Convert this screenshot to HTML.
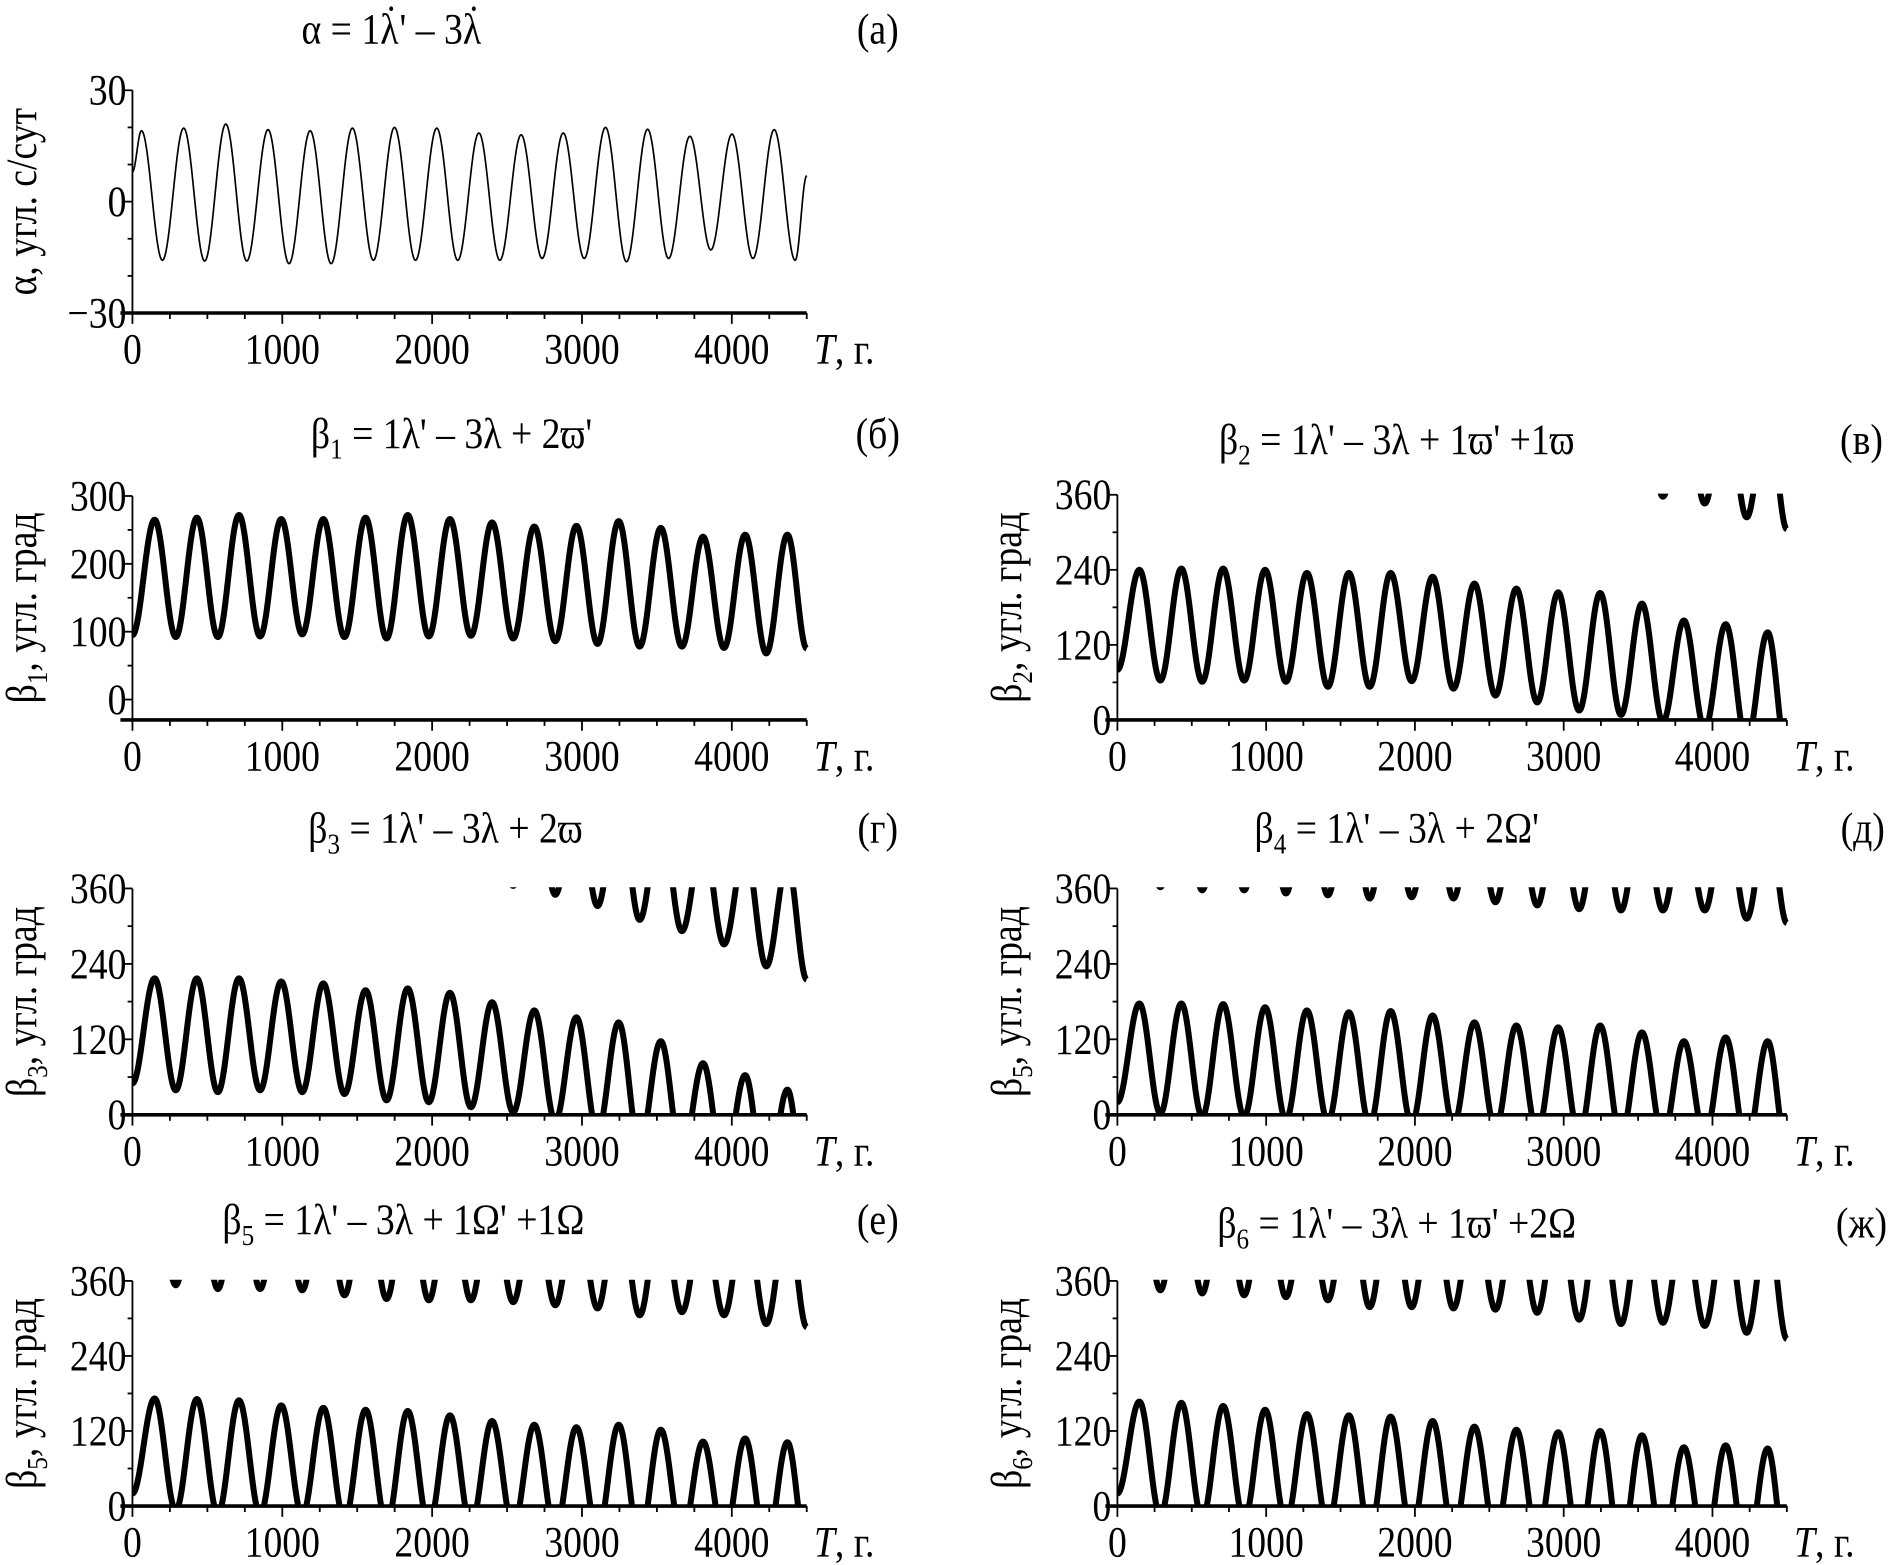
<!DOCTYPE html>
<html><head><meta charset="utf-8">
<style>
html,body{margin:0;padding:0;background:#fff;}
svg{display:block;}
text{font-family:"Liberation Serif",serif;fill:#000;}
</style></head>
<body>
<svg id="fig" xmlns="http://www.w3.org/2000/svg" width="1888" height="1565" viewBox="0 0 1568 1300" preserveAspectRatio="none">
  <rect x="0" y="0" width="1568" height="1300" fill="#fff"/>
  <text transform="translate(325 36) scale(0.87 1)" x="0" y="0" font-size="36" text-anchor="middle">α = 1λ<tspan dx="-13" dy="-7">˙</tspan><tspan dx="2" dy="7">' – 3λ</tspan><tspan dx="-13" dy="-7">˙</tspan></text>
  <text transform="translate(729 36) scale(0.87 1)" x="0" y="0" font-size="36" text-anchor="middle">(a)</text>
  <text transform="translate(375 372) scale(0.87 1)" x="0" y="0" font-size="36" text-anchor="middle">β<tspan font-size="24" dy="9">1</tspan><tspan dy="-9"> = 1λ' – 3λ + 2ϖ'</tspan></text>
  <text transform="translate(729 372) scale(0.87 1)" x="0" y="0" font-size="36" text-anchor="middle">(б)</text>
  <text transform="translate(1160 377) scale(0.87 1)" x="0" y="0" font-size="36" text-anchor="middle">β<tspan font-size="24" dy="9">2</tspan><tspan dy="-9"> = 1λ' – 3λ + 1ϖ' +1ϖ</tspan></text>
  <text transform="translate(1546 377) scale(0.87 1)" x="0" y="0" font-size="36" text-anchor="middle">(в)</text>
  <text transform="translate(370 700) scale(0.87 1)" x="0" y="0" font-size="36" text-anchor="middle">β<tspan font-size="24" dy="9">3</tspan><tspan dy="-9"> = 1λ' – 3λ + 2ϖ</tspan></text>
  <text transform="translate(729 700) scale(0.87 1)" x="0" y="0" font-size="36" text-anchor="middle">(г)</text>
  <text transform="translate(1160 700) scale(0.87 1)" x="0" y="0" font-size="36" text-anchor="middle">β<tspan font-size="24" dy="9">4</tspan><tspan dy="-9"> = 1λ' – 3λ + 2Ω'</tspan></text>
  <text transform="translate(1547 700) scale(0.87 1)" x="0" y="0" font-size="36" text-anchor="middle">(д)</text>
  <text transform="translate(335 1025) scale(0.87 1)" x="0" y="0" font-size="36" text-anchor="middle">β<tspan font-size="24" dy="9">5</tspan><tspan dy="-9"> = 1λ' – 3λ + 1Ω' +1Ω</tspan></text>
  <text transform="translate(729 1025) scale(0.87 1)" x="0" y="0" font-size="36" text-anchor="middle">(е)</text>
  <text transform="translate(1160 1028) scale(0.87 1)" x="0" y="0" font-size="36" text-anchor="middle">β<tspan font-size="24" dy="9">6</tspan><tspan dy="-9"> = 1λ' – 3λ + 1ϖ' +2Ω</tspan></text>
  <text transform="translate(1546 1028) scale(0.87 1)" x="0" y="0" font-size="36" text-anchor="middle">(ж)</text>
</svg>
<script>
const alphaPeakT   = [60,342,623,905,1186,1468,1749,2031,2312,2594,2875,3157,3438,3720,4001,4283];
const alphaTroughT = [200,482,763,1045,1326,1608,1889,2171,2452,2734,3015,3297,3578,3860,4141,4423];
const alphaPeakV   = [19.1,19.8,20.9,19.4,19.1,19.8,20,19.8,18.5,18,18.5,20,19.5,17.6,18.2,19.4];
const alphaTroughV = [-15.8,-16,-16,-16.7,-16.7,-15.8,-15.8,-15.8,-15.8,-15.3,-15.3,-16.2,-15.3,-13,-15.3,-15.8];
const alphaStart = 8, alphaEnd = 7;

const betaPeakT   = [148,430,711,993,1274,1556,1837,2119,2400,2682,2963,3245,3526,3808,4089,4371];
const betaTroughT = [289,570,852,1133,1415,1696,1978,2259,2541,2822,3104,3385,3667,3948,4230];

const b1Peak   = [265,268,272,266,266,268,272,266,261,255,256,263,253,240,243,243];
const b1Trough = [92,92,93,96,92,90,93,94,90,86,82,78,78,76,68];
const b1Start = 95, b1End = 75;

const b2Peak   = [240,242,242,240,235,235,235,229,218,210,204,203,186,159,153,140];
const b2Trough = [63,61,63,61,53,53,62,50,39,28,15,8,-3,-14,-36];
const b2Start = 80, b2End = -55;

const b3Peak   = [217,217,217,212,209,198,201,194,179,166,155,147,117,82,63,40];
const b3Trough = [39,36,39,36,33,23,20,12,4,-10,-28,-50,-68,-89,-124];
const b3Start = 50, b3End = -145;

const b4Peak   = [177,177,176,171,166,163,165,158,147,142,139,142,131,117,123,117];
const b4Trough = [2,-3,-3,-8,-11,-16,-14,-16,-22,-27,-33,-35,-35,-35,-48];
const b4Start = 20, b4End = -55;

const b5Peak   = [172,171,169,161,157,154,152,145,136,130,126,130,122,103,108,102];
const b5Trough = [-7,-13,-13,-15,-23,-29,-31,-31,-34,-39,-44,-55,-50,-55,-69];
const b5Start = 20, b5End = -74;

const b6Peak   = [167,165,160,154,147,145,143,136,127,122,118,120,113,94,97,92];
const b6Trough = [-15,-20,-23,-26,-31,-42,-42,-44,-46,-51,-62,-69,-67,-72,-83];
const b6Start = 20, b6End = -93;

const xTicks = [0,1000,2000,3000,4000];
const xMax = 4500;

const NS = "http://www.w3.org/2000/svg";
const svg = document.getElementById('fig');
function mk(tag, attrs){ const e=document.createElementNS(NS,tag); for(const k in attrs) e.setAttribute(k,attrs[k]); return e; }
const SX = 0.87;
function txt(x,y,anchor,rot){
  return mk('text',{x:0,y:0,'font-size':36,'text-anchor':anchor,
    transform:'translate('+x+' '+y+')'+(rot?' rotate(-90)':'')+' scale('+SX+' 1)'});
}

function buildSeries(pT,pV,tT,tV,s,e){
  const ext=[[0,s]];
  const all=[];
  pT.forEach((t,i)=>all.push([t,pV[i]]));
  tT.forEach((t,i)=>all.push([t,tV[i]]));
  all.sort((a,b)=>a[0]-b[0]);
  all.forEach(p=>ext.push(p));
  ext.push([xMax,e]);
  const pts=[];
  for(let i=0;i<ext.length-1;i++){
    const [t0,v0]=ext[i],[t1,v1]=ext[i+1];
    const n=Math.max(2,Math.round((t1-t0)/4));
    for(let j=0;j<n;j++){
      const f=j/n, c=(1-Math.cos(Math.PI*f))/2;
      pts.push([t0+(t1-t0)*f, v0+(v1-v0)*c]);
    }
  }
  pts.push(ext[ext.length-1]);
  return pts;
}

let clipId=0;
function panel(cfg){
  const {name,x0,x1,yTop,yBot,vMin,vMax,yTicks,yMinor,yLabel,sub,series,sw,wrap}=cfg;
  const X=t=>x0+(t/xMax)*(x1-x0);
  const Y=v=>yBot-(v-vMin)/(vMax-vMin)*(yBot-yTop);
  const g=mk('g',{});
  
  
  svg.appendChild(g);
  const cid='clip'+(clipId++);
  const cp=mk('clipPath',{id:cid});
  cp.appendChild(mk('rect',{x:x0,y:Y(vMax)-1,width:x1-x0+2,height:Y(vMin)-Y(vMax)+1}));
  g.appendChild(cp);
  const offsets = wrap ? [0,360] : [0];
  offsets.forEach(off=>{
    const d=series.map((p,i)=>(i?'L':'M')+X(p[0]).toFixed(2)+' '+Y(p[1]+off).toFixed(2)).join(' ');
    const path=mk('path',{d:d,fill:'none',stroke:'#000','stroke-width':sw,'stroke-linejoin':'round','clip-path':'url(#'+cid+')'});
    
    
    g.appendChild(path);
  });
  const ya=mk('line',{x1:x0,y1:yTop,x2:x0,y2:yBot,stroke:'#000','stroke-width':1.5});
  
  
  g.appendChild(ya);
  const xa=mk('line',{x1:x0-10,y1:yBot,x2:x1,y2:yBot,stroke:'#000','stroke-width':3});
  
  
  g.appendChild(xa);
  yTicks.forEach(v=>{
    const tk=mk('line',{x1:x0-8,y1:Y(v),x2:x0,y2:Y(v),stroke:'#000','stroke-width':1.5});
    
    
    g.appendChild(tk);
    const lb=txt(x0-5,Y(v)+12,'end',false);
    lb.textContent = v<0 ? '−'+Math.abs(v) : String(v);
    
    
    g.appendChild(lb);
  });
  yMinor.forEach(v=>{
    const tk=mk('line',{x1:x0-4,y1:Y(v),x2:x0,y2:Y(v),stroke:'#000','stroke-width':1.5});
    
    
    g.appendChild(tk);
  });
  for(let t=0;t<=xMax;t+=250){
    const major = t%1000===0;
    const tk=mk('line',{x1:X(t),y1:yBot,x2:X(t),y2:yBot+(major?9:5),stroke:'#000','stroke-width':1.5});
    
    
    g.appendChild(tk);
  }
  xTicks.forEach(t=>{
    const lb=txt(X(t),yBot+42,'middle',false);
    lb.textContent=String(t);
    
    
    g.appendChild(lb);
  });
  const xt=txt(x1+6,yBot+42,'start',false);
  xt.innerHTML='<tspan font-style="italic">T</tspan>, г.';
  
  
  g.appendChild(xt);
  const cy=(yTop+yBot)/2, cx=x0-80;
  const yt=txt(cx,cy,'middle',true);
  yt.innerHTML = sub ? yLabel+'<tspan font-size="24" dy="9">'+sub+'</tspan><tspan dy="-9">, угл. град</tspan>' : yLabel;
  
  
  g.appendChild(yt);
}

const L0=110, L1=670, R0=928, R1=1484;
const T360=[0,120,240,360], M360=[60,180,300];

panel({name:'alpha',x0:L0,x1:L1,yTop:75,yBot:260,vMin:-30,vMax:30,yTicks:[30,0,-30],yMinor:[20,10,-10,-20],
  yLabel:'α, угл. с/сут',sub:null,series:buildSeries(alphaPeakT,alphaPeakV,alphaTroughT,alphaTroughV,alphaStart,alphaEnd),sw:1.4,wrap:false});
panel({name:'beta1',x0:L0,x1:L1,yTop:412,yBot:598,vMin:-30,vMax:300,yTicks:[0,100,200,300],yMinor:[50,150,250],
  yLabel:'β',sub:'1',series:buildSeries(betaPeakT,b1Peak,betaTroughT,b1Trough,b1Start,b1End),sw:5,wrap:false});
panel({name:'beta2',x0:R0,x1:R1,yTop:411,yBot:598,vMin:0,vMax:360,yTicks:T360,yMinor:M360,
  yLabel:'β',sub:'2',series:buildSeries(betaPeakT,b2Peak,betaTroughT,b2Trough,b2Start,b2End),sw:5,wrap:true});
panel({name:'beta3',x0:L0,x1:L1,yTop:738,yBot:926,vMin:0,vMax:360,yTicks:T360,yMinor:M360,
  yLabel:'β',sub:'3',series:buildSeries(betaPeakT,b3Peak,betaTroughT,b3Trough,b3Start,b3End),sw:5,wrap:true});
panel({name:'beta4',x0:R0,x1:R1,yTop:738,yBot:926,vMin:0,vMax:360,yTicks:T360,yMinor:M360,
  yLabel:'β',sub:'5',series:buildSeries(betaPeakT,b4Peak,betaTroughT,b4Trough,b4Start,b4End),sw:5,wrap:true});
panel({name:'beta5',x0:L0,x1:L1,yTop:1064,yBot:1251,vMin:0,vMax:360,yTicks:T360,yMinor:M360,
  yLabel:'β',sub:'5',series:buildSeries(betaPeakT,b5Peak,betaTroughT,b5Trough,b5Start,b5End),sw:5,wrap:true});
panel({name:'beta6',x0:R0,x1:R1,yTop:1064,yBot:1251,vMin:0,vMax:360,yTicks:T360,yMinor:M360,
  yLabel:'β',sub:'6',series:buildSeries(betaPeakT,b6Peak,betaTroughT,b6Trough,b6Start,b6End),sw:5,wrap:true});
</script>
</body></html>
